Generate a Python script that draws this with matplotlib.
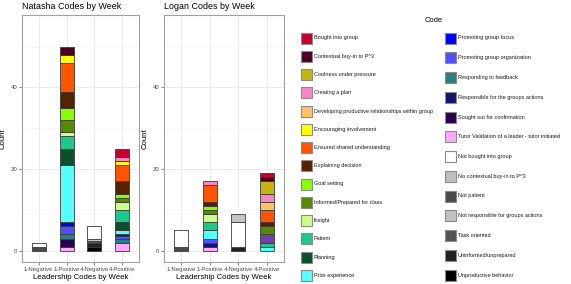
import numpy as np
import matplotlib
matplotlib.use("Agg")
import matplotlib.pyplot as plt
from matplotlib.patches import Rectangle

plt.rcParams['font.family'] = ['Liberation Sans', 'DejaVu Sans']

weeks = ["1-Negative", "1-Positive", "4-Negative", "4-Positive"]

# legend order (same as the factor levels)
codes = [
    "Bought into group", "Contextual buy-in to P^3", "Coolness under pressure",
    "Creating a plan", "Developing productive relationships within group",
    "Encouraging involvement", "Ensured shared understanding", "Explaining decision",
    "Goal setting", "Informed/Prepared for class", "Insight", "Patient", "Planning",
    "Prior experience", "Promoting group focus", "Promoting group organization",
    "Responding to feedback", "Responsible for the groups actions",
    "Sought out for confirmation", "Tutor Validation of a leader - tutor initiated",
    "Not bought into group", "No contextual buy-in to P^3", "Not patient",
    "Not responsible for groups actions", "Task oriented", "Uninformed/unprepared",
    "Unproductive behavior",
]
code_colors = [
    "#C4002F", "#4D0026", "#C8B40E", "#F987C5", "#FFC266",
    "#FFFF00", "#FF5500", "#552200", "#88FF00", "#578A00",
    "#CCFF88", "#1EC88A", "#0A5028", "#55FFFF", "#0000FF",
    "#5050FF", "#2A8080", "#14146E", "#280050", "#FFAAFF",
    "#FFFFFF", "#BEBEBE", "#4A4A4A", "#C4C4C4", "#525252",
    "#222222", "#000000",
]
colors = dict(zip(codes, code_colors))
colors["Other"] = "#7040A8"  # purple segment in Logan's plot, not in the legend

# counts per week; dict order = stacking order, top first
natasha_counts = {
    "Bought into group": [0, 0, 0, 2],
    "Contextual buy-in to P^3": [0, 2, 0, 0],
    "Creating a plan": [0, 0, 0, 1],
    "Encouraging involvement": [0, 2, 0, 1],
    "Ensured shared understanding": [0, 7, 0, 4],
    "Explaining decision": [0, 4, 0, 3],
    "Goal setting": [0, 3, 0, 1],
    "Informed/Prepared for class": [0, 3, 0, 1],
    "Insight": [0, 1, 0, 2],
    "Patient": [0, 3, 0, 3],
    "Planning": [0, 4, 0, 2],
    "Prior experience": [0, 14, 0, 1],
    "Promoting group focus": [0, 1, 0, 0.5],
    "Promoting group organization": [0, 2, 0, 0.5],
    "Responding to feedback": [0, 1, 0, 1],
    "Sought out for confirmation": [0, 2, 0, 0],
    "Tutor Validation of a leader - tutor initiated": [0, 1, 0, 2],
    "Not bought into group": [1, 0, 3, 0],
    "Not patient": [1, 0, 0, 0],
    "Not responsible for groups actions": [0, 0, 0.5, 0],
    "Task oriented": [0, 0, 0.5, 0],
    "Uninformed/unprepared": [0, 0, 1, 0],
    "Unproductive behavior": [0, 0, 1, 0],
}
logan_counts = {
    "Bought into group": [0, 0, 0, 1],
    "Contextual buy-in to P^3": [0, 0, 0, 1],
    "Coolness under pressure": [0, 0, 0, 3],
    "Creating a plan": [0, 1, 0, 2],
    "Developing productive relationships within group": [0, 0, 0, 2],
    "Ensured shared understanding": [0, 4, 0, 3],
    "Explaining decision": [0, 1, 0, 1],
    "Goal setting": [0, 1, 0, 0],
    "Informed/Prepared for class": [0, 1, 0, 2],
    "Insight": [0, 2, 0, 0],
    "Other": [0, 0, 0, 2],
    "Patient": [0, 2, 0, 1],
    "Prior experience": [0, 2, 0, 1],
    "Promoting group organization": [0, 1, 0, 0],
    "Responsible for the groups actions": [0, 1, 0, 0],
    "Tutor Validation of a leader - tutor initiated": [0, 1, 0, 0],
    "Not responsible for groups actions": [0, 0, 2, 0],
    "Not bought into group": [4, 0, 6, 0],
    "Not patient": [1, 0, 0, 0],
    "Uninformed/unprepared": [0, 0, 1, 0],
}

W, H = 571, 284
fig = plt.figure(figsize=(W / 100, H / 100), dpi=100)


def panel(rect, counts, title):
    ax = fig.add_axes([rect[0] / W, 1 - rect[3] / H, (rect[2] - rect[0]) / W, (rect[3] - rect[1]) / H])
    x = np.arange(1, len(weeks) + 1)
    bottom = np.zeros(len(weeks))
    for code in reversed(list(counts)):
        vals = np.array(counts[code], dtype=float)
        m = vals > 0
        ax.bar(x[m], vals[m], bottom=bottom[m], width=0.5, color=colors[code],
               edgecolor="#3a3a3a", linewidth=0.6, zorder=3)
        bottom += vals
    ax.set_xlim(0.4, 4.6)
    ax.set_ylim(-2.75, 57.75)
    ax.set_xticks(x)
    ax.set_xticklabels(weeks)
    ax.set_yticks([0, 20, 40])
    ax.set_yticks([10, 30, 50], minor=True)
    ax.grid(True, which="major", color="#EBEBEB", linewidth=0.7, zorder=0)
    ax.grid(True, which="minor", axis="y", color="#F2F2F2", linewidth=0.4, zorder=0)
    ax.set_axisbelow(True)
    ax.tick_params(which="major", length=2, width=0.5, color="#555555",
                   labelsize=4.3, labelcolor="#4D4D4D", pad=1.5)
    ax.tick_params(which="minor", length=0)
    for s in ax.spines.values():
        s.set_color("#A0A0A0")
        s.set_linewidth(0.8)
    ax.set_xlabel("Leadership Codes by Week", fontsize=5.6, labelpad=1.5)
    ax.set_ylabel("Count", fontsize=5.6, labelpad=3)
    ax.set_title(title, fontsize=6.4, loc="left", pad=4)
    return ax


panel((22, 15, 139, 262), natasha_counts, "Natasha Codes by Week")
panel((164, 15, 284, 262), logan_counts, "Logan Codes by Week")

# legend drawn in pixel coordinates
lg = fig.add_axes([0, 0, 1, 1])
lg.set_xlim(0, W)
lg.set_ylim(H, 0)
lg.axis("off")
lg.text(425, 20, "Code", fontsize=5.4, va="center", ha="left")
left_n = 14
for i, (code, col) in enumerate(zip(codes, code_colors)):
    if i < left_n:
        bx, by = 300.5, 38 + i * 18.25
    else:
        bx, by = 444.5, 38 + (i - left_n) * 19.75
    lg.add_patch(Rectangle((bx, by - 5.5), 11, 11, facecolor=col,
                           edgecolor="#8A8A8A", linewidth=0.8))
    lg.text(bx + 13, by, code.replace("P^3", "P^3"), fontsize=4.0,
            va="center", ha="left", color="#1A1A1A")

fig.savefig("out.png", dpi=100)
